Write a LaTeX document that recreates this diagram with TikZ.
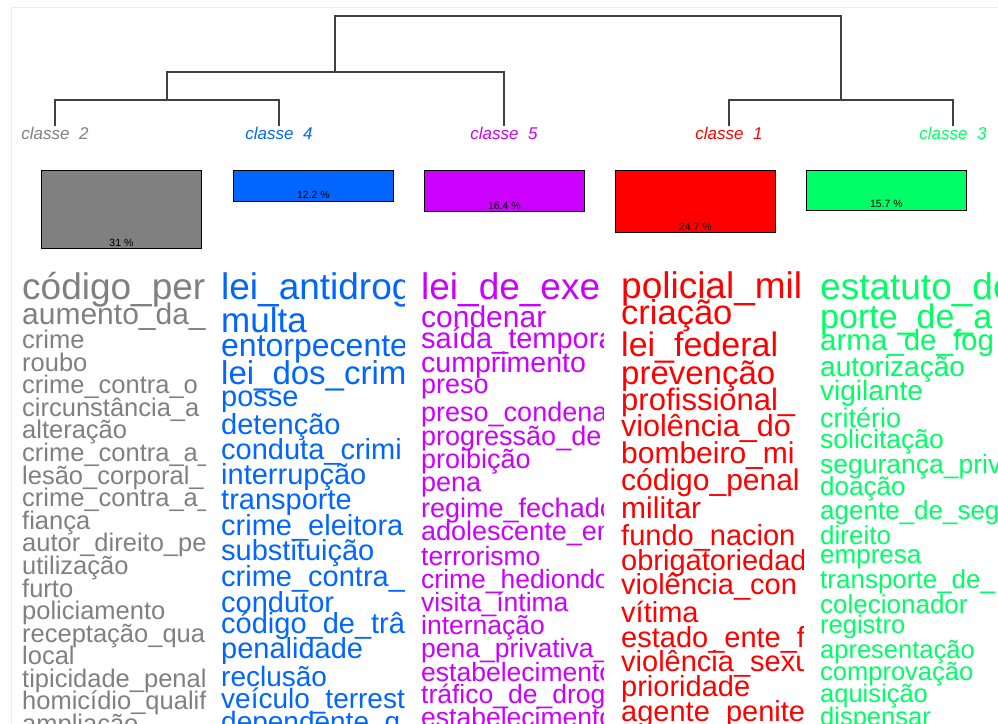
\documentclass[tikz,border=0pt]{standalone}
\usepackage{fontspec}
\setmainfont{Liberation Sans}
\usetikzlibrary{positioning}
\definecolor{cl1}{RGB}{255,0,0}
\definecolor{cl2}{RGB}{128,128,128}
\definecolor{cl3}{RGB}{0,255,102}
\definecolor{cl4}{RGB}{0,102,255}
\definecolor{cl5}{RGB}{204,0,255}

\begin{document}
\begin{tikzpicture}[x=1pt, y=-1pt,
    dend/.style={draw=black!75, line width=1.1pt},
    classe/.style={font=\fontsize{17}{17}\selectfont\itshape, inner sep=0pt, anchor=base},
    bar/.style={draw=black, line width=0.8pt, minimum width=160pt, anchor=north west, inner sep=0pt},
    pct/.style={font=\fontsize{10.5}{10.5}\selectfont, inner sep=0pt, text=black},
    word/.style={anchor=base west, inner sep=0pt}
  ]
  \useasboundingbox[fill=white] (0,0) rectangle (998,723);
  \draw[black!8, line width=1pt] (11,723) -- (11,7) -- (998,7);

  % dendrogram
  \node[classe, cl2] (c2) at (55,139) {classe\ \ 2};
  \node[classe, cl4] (c4) at (279,139) {classe\ \ 4};
  \node[classe, cl5] (c5) at (504,139) {classe\ \ 5};
  \node[classe, cl1] (c1) at (729,139) {classe\ \ 1};
  \node[classe, cl3] (c3) at (953,139) {classe\ \ 3};
  \coordinate (j24) at (167,100);
  \coordinate (j245) at (335,72);
  \coordinate (j13) at (841,100);
  \coordinate (raiz) at (588,16);
  \draw[dend] (c2.north) |- (j24) -| (c4.north);
  \draw[dend] (j24) |- (j245) -| (c5.north);
  \draw[dend] (c1.north) |- (j13) -| (c3.north);
  \draw[dend] (j245) |- (raiz) -| (j13);

  % bars
  \node[bar, fill=cl2, minimum height=78.1pt] (b2) at (41,170) {};
  \node[bar, fill=cl4, minimum height=30.7pt] (b4) at (233,170) {};
  \node[bar, fill=cl5, minimum height=41.3pt] (b5) at (424,170) {};
  \node[bar, fill=cl1, minimum height=62.2pt] (b1) at (615,170) {};
  \node[bar, fill=cl3, minimum height=39.6pt] (b3) at (806,170) {};
  \node[pct, above=2.5pt of b2.south] (p2) {31 \%};
  \node[pct, above=2.5pt of b4.south] (p4) {12.2 \%};
  \node[pct, above=2.5pt of b5.south] (p5) {16.4 \%};
  \node[pct, above=2.5pt of b1.south] (p1) {24.7 \%};
  \node[pct, above=2.5pt of b3.south] (p3) {15.7 \%};

  % words
  \begin{scope}[color=cl2]
    \clip (0,255) rectangle (205,723);
    \foreach \s/\y/\w [count=\i] in {37/299/código\_per, 30/324/aumento\_da\_,
      25.5/348/crime, 25.5/371/roubo, 25.5/393/crime\_contra\_o,
      25.5/416/circunstância\_a, 25.5/438/alteração, 25.5/461/crime\_contra\_a\_,
      25.5/484/lesão\_corporal\_, 25.5/506/crime\_contra\_a\_, 25.5/529/fiança,
      25.5/551/autor\_direito\_pe, 25.5/574/utilização, 25.5/597/furto,
      25.5/619/policiamento, 25.5/642/receptação\_qua, 25.5/664/local,
      25.5/687/tipicidade\_penal, 25.5/709/homicídio\_qualif, 25.5/732/ampliação}
      \node[word, font=\fontsize{\s}{\s}\selectfont] (w2-\i) at (22,\y) {\w};
  \end{scope}
  \begin{scope}[color=cl4]
    \clip (205,255) rectangle (404,723);
    \foreach \s/\y/\w [count=\i] in {37/299/lei\_antidrog, 35/332/multa,
      32/356/entorpecente, 33/384/lei\_dos\_crim, 29/406/posse,
      29/434/detenção, 29/459/conduta\_crimi, 29/484/interrupção,
      29/509/transporte, 29/535/crime\_eleitora, 29/560/substituição,
      29/586/crime\_contra\_, 29/612/condutor, 29/633/código\_de\_trâ,
      29/658/penalidade, 28/686/reclusão, 28/708/veículo\_terrest,
      28/731/dependente\_q}
      \node[word, font=\fontsize{\s}{\s}\selectfont] (w4-\i) at (221,\y) {\w};
  \end{scope}
  \begin{scope}[color=cl5]
    \clip (404,255) rectangle (603,723);
    \foreach \s/\y/\w [count=\i] in {37/299/lei\_de\_exe, 30/327/condenar,
      29/348/saída\_tempora, 28.5/372/cumprimento, 27/393/preso,
      27/421/preso\_condena, 27/445/progressão\_de, 27/468/proibição,
      27/491/pena, 27/517/regime\_fechado, 27/540/adolescente\_em,
      26.5/565/terrorismo, 26.5/588/crime\_hediondo, 26.5/611/visita\_íntima,
      26.5/634/internação, 26.5/657/pena\_privativa\_, 26.5/681/estabelecimento,
      26.5/703/tráfico\_de\_drog, 26.5/726/estabelecimento}
      \node[word, font=\fontsize{\s}{\s}\selectfont] (w5-\i) at (421,\y) {\w};
  \end{scope}
  \begin{scope}[color=cl1]
    \clip (603,255) rectangle (803,723);
    \foreach \s/\y/\w [count=\i] in {37/298/policial\_mil, 34.5/324/criação,
      34/356/lei\_federal, 33/384/prevenção, 31/410/profissional\_,
      30.5/436/violência\_do, 30/463/bombeiro\_mi, 30/490/código\_penal,
      30/518/militar, 29/545/fundo\_nacion, 29/570/obrigatoriedad,
      29/594/violência\_con, 29/622/vítima, 29/647/estado\_ente\_f,
      29/671/violência\_sexu, 29/696/prioridade, 29/721/agente\_penite}
      \node[word, font=\fontsize{\s}{\s}\selectfont] (w1-\i) at (621,\y) {\w};
  \end{scope}
  \begin{scope}[color=cl3]
    \clip (803,255) rectangle (998,723);
    \foreach \s/\y/\w [count=\i] in {37/299/estatuto\_de, 34/328/porte\_de\_a,
      29.5/350/arma\_de\_fog, 28/376/autorização, 28/400/vigilante,
      27/427/critério, 26.5/448/solicitação, 26.5/473/segurança\_priv,
      26/495/doação, 26/519/agente\_de\_seg, 26/544/direito, 26/563/empresa,
      26/588/transporte\_de\_, 26/613/colecionador, 25.5/633/registro,
      25.5/658/apresentação, 25.5/680/comprovação, 25.5/702/aquisição,
      25.5/725/dispensar}
      \node[word, font=\fontsize{\s}{\s}\selectfont] (w3-\i) at (820,\y) {\w};
  \end{scope}
\end{tikzpicture}
\end{document}
